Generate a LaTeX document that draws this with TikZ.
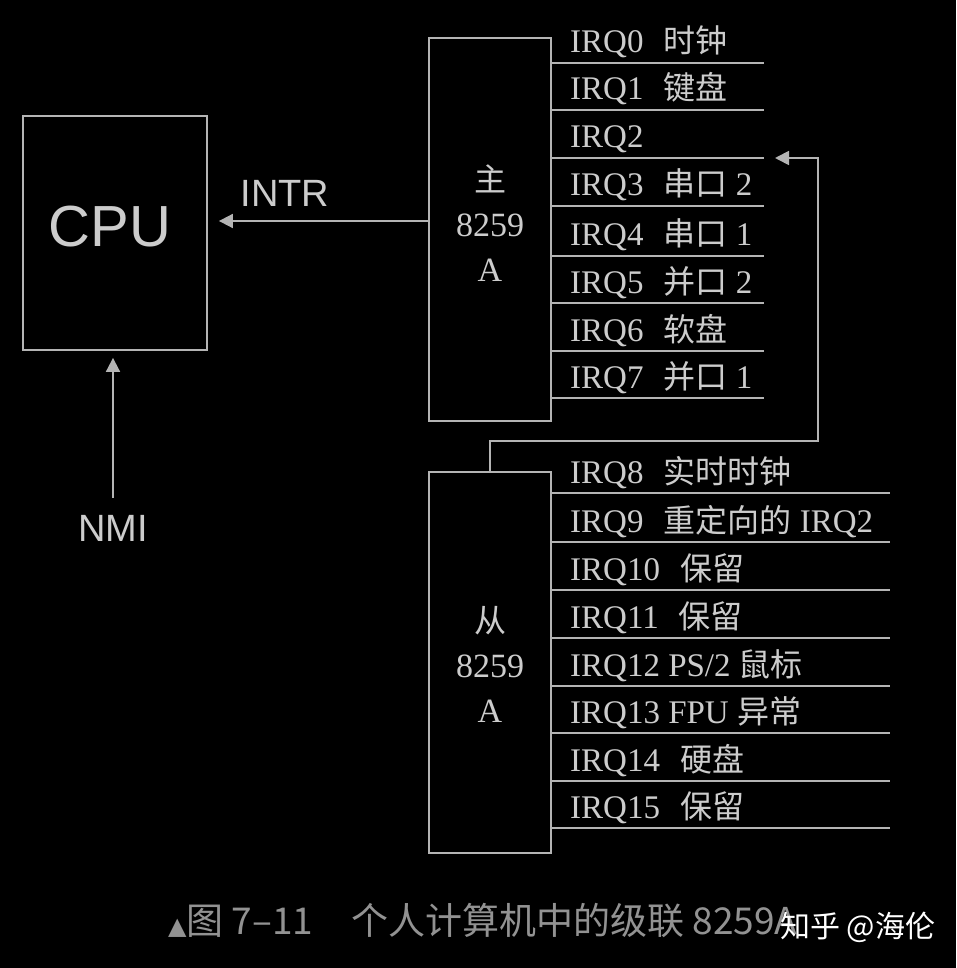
\documentclass[tikz,border=0pt]{standalone}
\usepackage{fontspec}
\setmainfont{Liberation Serif}
\setsansfont{Liberation Sans}
\newfontfamily\cjk{Noto Sans CJK SC}
\newfontfamily\djv{DejaVu Sans}
\usetikzlibrary{arrows.meta}
\definecolor{bg}{HTML}{000000}
\definecolor{ln}{HTML}{B4B4B4}
\definecolor{fg}{HTML}{CCCCCC}
\definecolor{cap}{HTML}{929292}
\newcommand\zh[1]{{\cjk\fontsize{32}{40}\selectfont #1}}
\newcommand\gq{\hspace{20pt}}
\tikzset{
  box/.style={draw=ln, line width=1.8pt, rectangle, inner sep=0pt},
  wire/.style={draw=ln, line width=1.8pt},
  arr/.style={wire, -{Triangle[length=14pt,width=14pt]}},
  irqlabel/.style={anchor=base west, inner sep=0pt, text=fg, font=\fontsize{33}{40}\selectfont},
  chiptext/.style={align=center, inner sep=0pt, text=fg, font=\fontsize{34}{45}\selectfont},
  sanslabel/.style={inner sep=0pt, text=fg, font=\sffamily\fontsize{38}{40}\selectfont}
}
\begin{document}
\begin{tikzpicture}[x=1pt,y=-1pt]
\fill[bg] (0,0) rectangle (956,968);
\useasboundingbox (0,0) rectangle (956,968);

% CPU
\node[box, minimum width=184pt, minimum height=234pt] (cpu) at (115,233) {};
\node[sanslabel, font=\sffamily\fontsize{58}{60}\selectfont] (cputext) at (110,227) {CPU};

% master and slave 8259A
\node[box, minimum width=122pt, minimum height=383pt] (master) at (490,229.5) {};
\node[chiptext] (mastertext) at (490,223) {\zh{主}\\8259\\A};
\node[box, minimum width=122pt, minimum height=381pt] (slave) at (490,662.5) {};
\node[chiptext] (slavetext) at (490,664) {\zh{从}\\8259\\A};

% master IRQ lines and labels
\foreach \y/\t in {63/{IRQ0\gq\zh{时钟}},110/{IRQ1\gq\zh{键盘}},158/{IRQ2},206/{IRQ3\gq\zh{串口} 2},256/{IRQ4\gq\zh{串口} 1},303/{IRQ5\gq\zh{并口} 2},351/{IRQ6\gq\zh{软盘}},398/{IRQ7\gq\zh{并口} 1}}{
  \coordinate (my\y) at (0,\y);
  \draw[wire] (master.east |- my\y) -- (764,\y);
  \node[irqlabel] (ml\y) at (570,\y-10) {\t};
}
% slave IRQ lines and labels
\foreach \y/\t in {493/{IRQ8\gq\zh{实时时钟}},542/{IRQ9\gq\zh{重定向的} IRQ2},590/{IRQ10\gq\zh{保留}},638/{IRQ11\gq\zh{保留}},686/{IRQ12 PS/2 \zh{鼠标}},733/{IRQ13 FPU \zh{异常}},781/{IRQ14\gq\zh{硬盘}},828/{IRQ15\gq\zh{保留}}}{
  \coordinate (sy\y) at (0,\y);
  \draw[wire] (slave.east |- sy\y) -- (890,\y);
  \node[irqlabel] (sl\y) at (570,\y-10) {\t};
}

% cascade slave -> master IRQ2
\coordinate (irq2in) at (775,158);
\coordinate (cascR) at (818,441);
\draw[arr] (slave.north) |- (cascR) |- (irq2in);

% INTR
\coordinate (intrY) at (0,221);
\draw[arr, shorten >=11pt] (master.west |- intrY) -- (cpu.east |- intrY);
\node[sanslabel] (intr) at (285,193) {INTR};

% NMI
\node[sanslabel] (nmi) at (113,528) {NMI};
\draw[arr, shorten <=17pt, shorten >=7pt] (nmi.north) -- (nmi.north |- cpu.south);

% caption
\node[anchor=base west, inner sep=0pt, text=cap] (caption) at (168,934)
  {{\djv\fontsize{24}{30}\selectfont ▲}{\cjk\fontsize{37}{40}\selectfont 图 7–11\hspace{38pt}个人计算机中的级联 8259A}};
\node[anchor=base west, inner sep=0pt, text=white] (watermark) at (780,937)
  {\cjk\fontsize{30}{36}\selectfont 知乎 @海伦};
\end{tikzpicture}
\end{document}
